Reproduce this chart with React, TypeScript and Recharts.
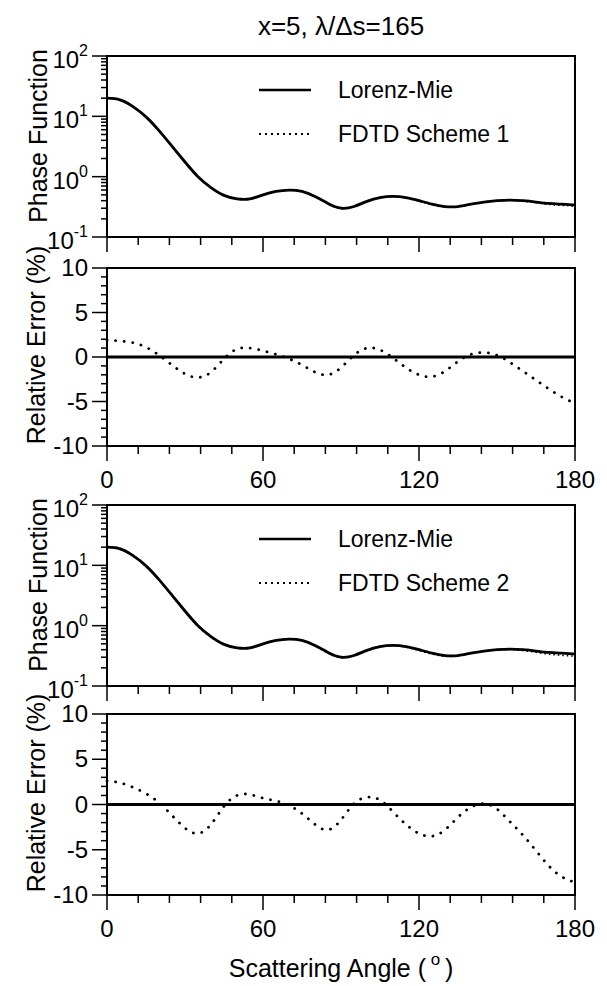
import React from 'react'
import { LineChart, Line, XAxis, YAxis, ReferenceArea, ReferenceLine, Legend } from 'recharts'

const FONT = '"Liberation Sans", Arial, Helvetica, sans-serif'

// scattering angle (deg)
const ANGLES = [0, 5, 10, 15, 20, 25, 30, 35, 40, 45, 50, 55, 60, 65, 70, 75, 80, 85, 90, 95, 100, 105, 110, 115, 120, 125, 130, 135, 140, 145, 150, 155, 160, 165, 170, 175, 180]

// phase function, Lorenz-Mie
const MIE = [20.0, 18.8, 14.5, 9.8, 5.8, 3.2, 1.75, 1.0, 0.66, 0.49, 0.43, 0.43, 0.5, 0.57, 0.6, 0.57, 0.47, 0.36, 0.3, 0.32, 0.39, 0.45, 0.47, 0.45, 0.4, 0.35, 0.32, 0.32, 0.35, 0.38, 0.4, 0.41, 0.4, 0.38, 0.36, 0.35, 0.34]

// phase function, FDTD scheme 1 / scheme 2
const FDTD_1 = [20.38, 19.14, 14.73, 9.91, 5.81, 3.17, 1.717, 0.977, 0.649, 0.489, 0.434, 0.434, 0.504, 0.572, 0.599, 0.565, 0.462, 0.353, 0.296, 0.321, 0.394, 0.454, 0.47, 0.445, 0.392, 0.342, 0.315, 0.318, 0.351, 0.382, 0.401, 0.408, 0.394, 0.37, 0.347, 0.334, 0.322]
const FDTD_2 = [20.52, 19.25, 14.78, 9.92, 5.81, 3.16, 1.705, 0.968, 0.645, 0.489, 0.434, 0.435, 0.504, 0.572, 0.599, 0.564, 0.46, 0.35, 0.295, 0.32, 0.393, 0.452, 0.466, 0.44, 0.387, 0.338, 0.311, 0.316, 0.349, 0.38, 0.398, 0.402, 0.386, 0.361, 0.336, 0.322, 0.311]

// relative error (%)
const ERR_1 = [1.9, 1.8, 1.6, 1.1, 0.2, -0.9, -1.9, -2.3, -1.7, -0.2, 0.9, 1.0, 0.7, 0.3, -0.2, -0.9, -1.7, -2.0, -1.2, 0.2, 1.0, 0.8, -0.1, -1.2, -2.0, -2.2, -1.6, -0.5, 0.3, 0.5, 0.2, -0.6, -1.6, -2.6, -3.6, -4.5, -5.2]
const ERR_2 = [2.6, 2.4, 1.9, 1.2, 0.2, -1.2, -2.6, -3.2, -2.2, -0.2, 1.0, 1.1, 0.7, 0.4, -0.1, -1.0, -2.2, -2.8, -1.7, 0.1, 0.8, 0.5, -0.8, -2.2, -3.2, -3.5, -2.8, -1.4, -0.3, 0.1, -0.5, -1.9, -3.4, -5.1, -6.8, -8.0, -8.6]

const X_TICKS = [0, 12, 24, 36, 48, 60, 72, 84, 96, 108, 120, 132, 144, 156, 168, 180]
const LOG_TICKS = [0.1, 0.2, 0.3, 0.4, 0.5, 0.6, 0.7, 0.8, 0.9, 1, 2, 3, 4, 5, 6, 7, 8, 9, 10, 20, 30, 40, 50, 60, 70, 80, 90, 100]
const ERR_TICKS = [-10, -9, -8, -7, -6, -5, -4, -3, -2, -1, 0, 1, 2, 3, 4, 5, 6, 7, 8, 9, 10]

const phase1 = ANGLES.map((a, i) => ({ angle: a, mie: MIE[i], fdtd: FDTD_1[i] }))
const phase2 = ANGLES.map((a, i) => ({ angle: a, mie: MIE[i], fdtd: FDTD_2[i] }))
const error1 = ANGLES.map((a, i) => ({ angle: a, err: ERR_1[i] }))
const error2 = ANGLES.map((a, i) => ({ angle: a, err: ERR_2[i] }))

const W = 607
const MARGIN = { top: 20, right: 32, left: 27, bottom: 0 }

function XTick(props: any) {
  const { x, y, payload, labels } = props
  const v = payload.value
  const major = v % 60 === 0
  return (
    <g>
      <line x1={x} y1={y} x2={x} y2={y + (major ? 15 : 8)} stroke="#000" strokeWidth={1.5} />
      {labels && major && (
        <text x={x} y={y + 42} textAnchor="middle" fontSize={24} fontFamily={FONT} fill="#000">{v}</text>
      )}
    </g>
  )
}

function LogTick(props: any) {
  const { x, y, payload } = props
  const v = payload.value
  const lg = Math.log10(v)
  const exp = Math.round(lg)
  const decade = Math.abs(lg - exp) < 1e-9
  return (
    <g>
      <line x1={x - (decade ? 15 : 6)} y1={y} x2={x} y2={y} stroke="#000" strokeWidth={1.5} />
      {decade && (
        <text x={x - 19} y={y + 12} textAnchor="end" fontSize={24} fontFamily={FONT} fill="#000">
          10<tspan dy={-12} fontSize={16}>{exp}</tspan>
        </text>
      )}
    </g>
  )
}

function ErrTick(props: any) {
  const { x, y, payload } = props
  const v = payload.value
  const major = v % 5 === 0
  return (
    <g>
      <line x1={x - (major ? 15 : 6)} y1={y} x2={x} y2={y} stroke="#000" strokeWidth={1.5} />
      {major && (
        <text x={x - 19} y={y + 8} textAnchor="end" fontSize={24} fontFamily={FONT} fill="#000">{v}</text>
      )}
    </g>
  )
}

function LegendRow({ dotted, label }: { dotted?: boolean; label: string }) {
  return (
    <div style={{ display: 'flex', alignItems: 'center', height: 30 }}>
      <svg width={52} height={6} style={{ marginRight: 27 }}>
        <line x1={0} y1={3} x2={52} y2={3} stroke="#000"
          strokeWidth={dotted ? 2 : 2.6} strokeDasharray={dotted ? '2 4' : undefined} />
      </svg>
      <span>{label}</span>
    </div>
  )
}

function PhasePanel({ data, scheme, top }: { data: any[]; scheme: string; top: number }) {
  return (
    <div style={{ position: 'absolute', left: 0, top }}>
      <LineChart width={W} height={251} data={data} margin={MARGIN}>
        <XAxis dataKey="angle" type="number" domain={[0, 180]} ticks={X_TICKS} interval={0}
          tickSize={0} tickMargin={0} height={50} axisLine={false} tickLine={false}
          tick={(p: any) => <XTick {...p} labels={false} />} />
        <YAxis type="number" scale="log" domain={[0.1, 100]} allowDataOverflow ticks={LOG_TICKS} interval={0}
          tickSize={0} tickMargin={0} width={80} axisLine={false} tickLine={false}
          tick={(p: any) => <LogTick {...p} />} />
        <ReferenceArea x1={0} x2={180} y1={0.1} y2={100} fill="none" stroke="#000" strokeWidth={2} />
        <Line dataKey="mie" type="natural" stroke="#000" strokeWidth={2.8} dot={false} isAnimationActive={false} />
        <Line dataKey="fdtd" type="natural" stroke="#000" strokeWidth={1.5} strokeDasharray="1.5 3"
          dot={false} isAnimationActive={false} />
        <Legend layout="vertical" align="center" verticalAlign="middle"
          wrapperStyle={{ position: 'absolute', left: 259, top: 39, width: 'auto', height: 'auto' }}
          content={() => (
            <div style={{ fontFamily: FONT, fontSize: 23, color: '#000' }}>
              <LegendRow label="Lorenz-Mie" />
              <div style={{ height: 14 }} />
              <LegendRow dotted label={scheme} />
            </div>
          )} />
      </LineChart>
    </div>
  )
}

function ErrorPanel({ data, top, plotH }: { data: any[]; top: number; plotH: number }) {
  return (
    <div style={{ position: 'absolute', left: 0, top }}>
      <LineChart width={W} height={20 + plotH + 60} data={data} margin={MARGIN}>
        <XAxis dataKey="angle" type="number" domain={[0, 180]} ticks={X_TICKS} interval={0}
          tickSize={0} tickMargin={0} height={60} axisLine={false} tickLine={false}
          tick={(p: any) => <XTick {...p} labels />} />
        <YAxis type="number" domain={[-10, 10]} ticks={ERR_TICKS} interval={0}
          tickSize={0} tickMargin={0} width={80} axisLine={false} tickLine={false}
          tick={(p: any) => <ErrTick {...p} />} />
        <ReferenceArea x1={0} x2={180} y1={-10} y2={10} fill="none" stroke="#000" strokeWidth={2} />
        <ReferenceLine y={0} stroke="#000" strokeWidth={2.8} />
        <Line dataKey="err" type="natural" stroke="#000" strokeWidth={2.8} strokeDasharray="0.1 8.5"
          strokeLinecap="round" dot={false} isAnimationActive={false} />
      </LineChart>
    </div>
  )
}

export default function App() {
  return (
    <div style={{ position: 'absolute', left: 0, top: 0, width: W, height: 986, background: '#fff' }}>
      <PhasePanel data={phase1} scheme="FDTD Scheme 1" top={36} />
      <ErrorPanel data={error1} top={248} plotH={178} />
      <PhasePanel data={phase2} scheme="FDTD Scheme 2" top={485} />
      <ErrorPanel data={error2} top={694} plotH={181} />
      <svg width={W} height={986} style={{ position: 'absolute', left: 0, top: 0, pointerEvents: 'none' }}
        fontFamily={FONT} fill="#000">
        <text x={341} y={35} textAnchor="middle" fontSize={26}>x=5, λ/Δs=165</text>
        <text transform="translate(47,136) rotate(-90)" textAnchor="middle" fontSize={25}>Phase Function</text>
        <text transform="translate(45,345) rotate(-90)" textAnchor="middle" fontSize={25}>Relative Error (%)</text>
        <text transform="translate(47,585) rotate(-90)" textAnchor="middle" fontSize={25}>Phase Function</text>
        <text transform="translate(45,793) rotate(-90)" textAnchor="middle" fontSize={25}>Relative Error (%)</text>
        <text x={341} y={977} textAnchor="middle" fontSize={25}>
          Scattering Angle (<tspan dy={-12} fontSize={17}> o </tspan><tspan dy={12}> )</tspan>
        </text>
      </svg>
    </div>
  )
}
